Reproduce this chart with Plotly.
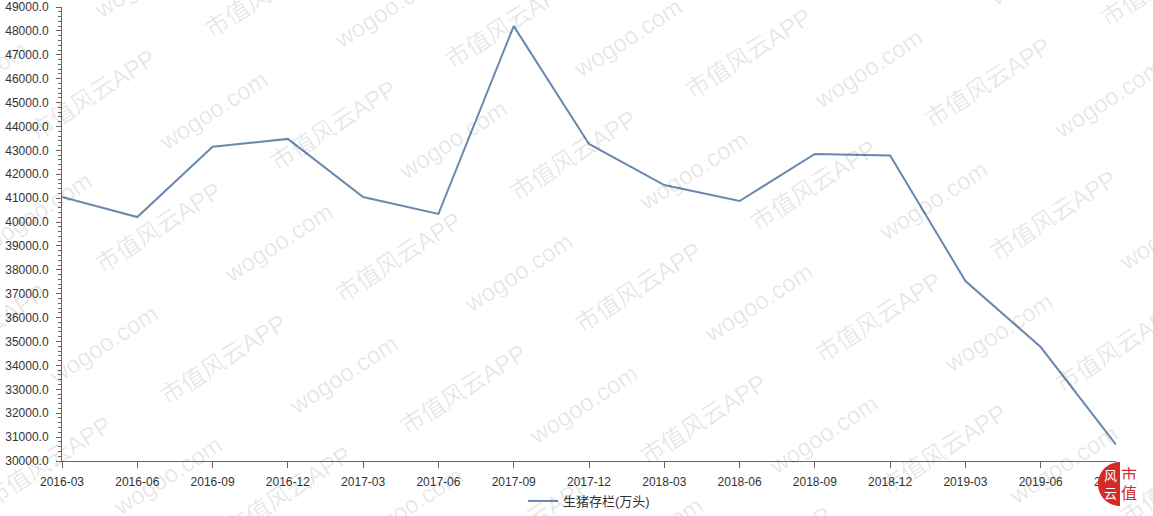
import numpy as np
import plotly.graph_objects as go

categories = ["2016-03", "2016-06", "2016-09", "2016-12", "2017-03", "2017-06",
              "2017-09", "2017-12", "2018-03", "2018-06", "2018-09", "2018-12",
              "2019-03", "2019-06", "2019-09"]
values = [41050, 40210, 43150, 43480, 41050, 40340, 48200, 43270, 41550,
          40880, 42850, 42790, 37530, 34770, 30680]
series_name = "生猪存栏(万头)"

W, H = 1153, 516
ML, MR, MT, MB = 62, 37, 7, 55
PW, PH = W - ML - MR, H - MT - MB


def px2paper(px, py):
    return (px - ML) / PW, (H - MB - py) / PH


font_family = "Liberation Sans, Arial, Noto Sans CJK SC, sans-serif"

fig = go.Figure()
fig.add_trace(go.Scatter(
    x=categories, y=values, mode="lines", name=series_name,
    line=dict(color="#6a88ad", width=2),
))

# watermark (decoration)
annotations = []
wm_color = "rgba(0,0,0,0.10)"
for r in range(-2, 6):
    for k in range(-2, 7):
        for txt, shift in (("市值风云APP", 0.0), ("wogoo.com", 0.5)):
            cx = 93 + (k + shift) * 240 + r * 65
            cy = 95 + (k + shift) * 30 + r * 132
            if -70 < cx < W + 70 and -45 < cy < H + 45:
                xp, yp = px2paper(cx, cy)
                annotations.append(dict(
                    x=xp, y=yp, xref="paper", yref="paper", text=txt,
                    xanchor="center", yanchor="middle",
                    showarrow=False, textangle=-33,
                    font=dict(family="Liberation Sans, Noto Sans CJK SC, sans-serif",
                              size=24, color=wm_color),
                ))

# logo at bottom-right (decoration)
lx, ly = px2paper(1120, 484)
theta = np.linspace(np.pi / 2, 3 * np.pi / 2, 40)
pts = [(22 * np.cos(t), 22 * np.sin(t)) for t in theta]
path = "M " + " L ".join(f"{x:.2f},{y:.2f}" for x, y in pts) + " Z"
shapes = [dict(type="path", path=path, xref="paper", yref="paper",
               xsizemode="pixel", ysizemode="pixel", xanchor=lx, yanchor=ly,
               fillcolor="#d42a2a", line=dict(width=0), layer="above")]
for ch, (cx, cy), col, sz, bg in (("市", (1129, 474), "#d42a2a", 16, "white"),
                                  ("值", (1129, 492), "#d42a2a", 16, "white"),
                                  ("风", (1110, 474), "white", 13, "rgba(0,0,0,0)"),
                                  ("云", (1110, 492), "white", 13, "rgba(0,0,0,0)")):
    xp, yp = px2paper(cx, cy)
    annotations.append(dict(x=xp, y=yp, xref="paper", yref="paper", text=ch,
                            xanchor="center", yanchor="middle", showarrow=False,
                            bgcolor=bg, borderpad=0,
                            font=dict(family="Noto Sans CJK SC, sans-serif", size=sz, color=col)))

fig.update_layout(
    width=W, height=H,
    margin=dict(l=ML, r=MR, t=MT, b=MB, autoexpand=False),
    paper_bgcolor="white", plot_bgcolor="white",
    font=dict(family=font_family, size=12, color="#333333"),
    showlegend=True,
    legend=dict(orientation="h", x=0.5, xanchor="center", y=-MB / PH, yanchor="bottom",
                font=dict(size=13, color="#333333"), bgcolor="rgba(0,0,0,0)"),
    xaxis=dict(
        type="category", range=[0, len(categories) - 1], automargin=False,
        showgrid=False, zeroline=False,
        showline=True, linecolor="#666666", linewidth=1,
        ticks="outside", ticklen=6, tickcolor="#666666",
        ticklabelstandoff=4,
        tickfont=dict(size=12, color="#333333"),
    ),
    yaxis=dict(
        range=[30000, 49000], dtick=1000, tick0=30000, tickformat=".1f", automargin=False,
        showgrid=False, zeroline=False,
        showline=True, linecolor="#666666", linewidth=1,
        ticks="outside", ticklen=5, tickcolor="#666666",
        ticklabelstandoff=5,
        tickfont=dict(size=12, color="#333333"),
        minor=dict(ticks="outside", dtick=200, ticklen=3, tickcolor="#666666", showgrid=False),
    ),
    shapes=shapes,
    annotations=annotations,
)

fig.write_html("out.html")
